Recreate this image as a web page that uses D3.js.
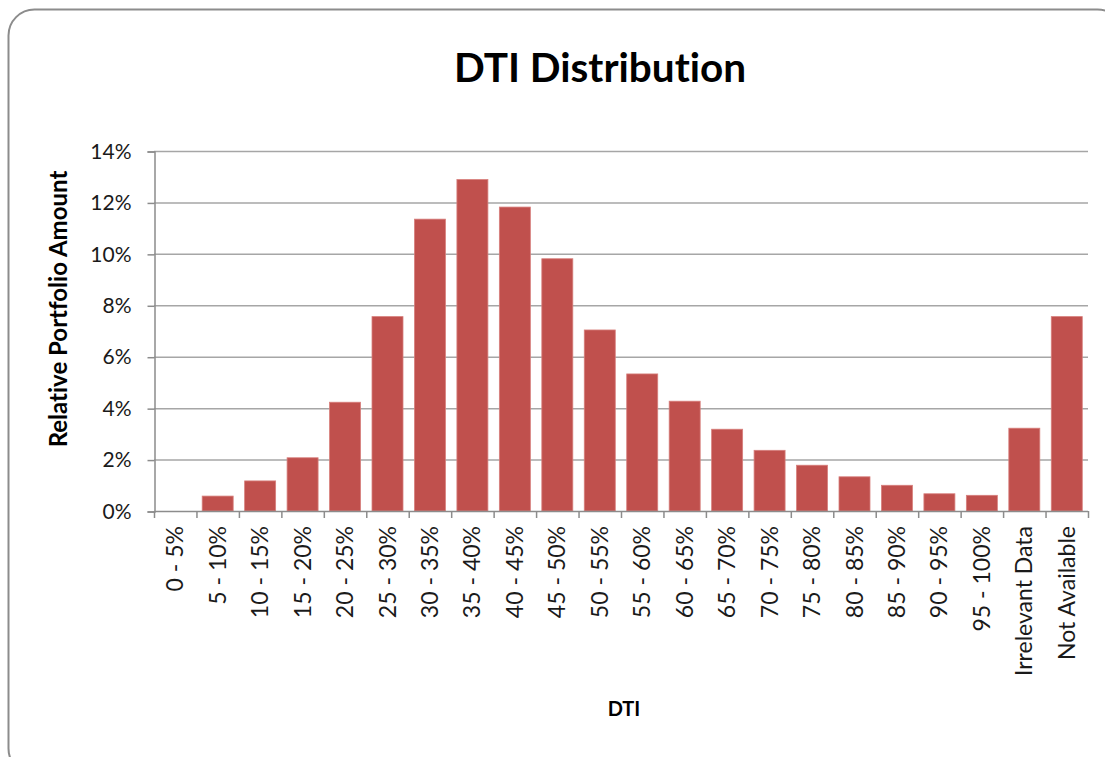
<!DOCTYPE html>
<html>
<head>
<meta charset="utf-8">
<script src="https://cdn.jsdelivr.net/npm/d3@7/dist/d3.min.js"></script>
<style>
  html, body { margin: 0; padding: 0; background: #fff; }
  svg { display: block; }
  text { font-variant-ligatures: none; font-feature-settings: "liga" 0, "clig" 0; }
</style>
</head>
<body>
<svg id="chart" width="1105" height="757"></svg>
<script>
const categories = ["0 - 5%", "5 - 10%", "10 - 15%", "15 - 20%", "20 - 25%", "25 - 30%",
  "30 - 35%", "35 - 40%", "40 - 45%", "45 - 50%", "50 - 55%", "55 - 60%", "60 - 65%",
  "65 - 70%", "70 - 75%", "75 - 80%", "80 - 85%", "85 - 90%", "90 - 95%", "95 - 100%",
  "Irrelevant Data", "Not Available"];
const values = [0.0, 0.58, 1.17, 2.07, 4.23, 7.56, 11.35, 12.89, 11.82, 9.81, 7.04, 5.33,
  4.27, 3.18, 2.36, 1.78, 1.33, 1.0, 0.67, 0.61, 3.22, 7.56];
const yTicks = [0, 2, 4, 6, 8, 10, 12, 14];
const title = "DTI Distribution";
const xTitle = "DTI";
const yTitle = "Relative Portfolio Amount";

const FONT = "Lato, 'Open Sans', sans-serif";
const svg = d3.select("#chart");

// outer rounded frame
svg.append("rect")
  .attr("x", 8.5).attr("y", 9.5)
  .attr("width", 1115).attr("height", 765)
  .attr("rx", 26).attr("ry", 26)
  .attr("fill", "#fff")
  .attr("stroke", "#8c8c8c")
  .attr("stroke-width", 2);

const pL = 154, pR = 1088, pT = 151, pB = 511;

const x = d3.scaleBand().domain(categories).range([pL, pR])
  .paddingInner(0.27).paddingOuter(0.135);
const y = d3.scaleLinear().domain([0, 14]).range([pB, pT]);

// gridlines
svg.append("g").selectAll("line").data(yTicks.filter(d => d > 0)).join("line")
  .attr("x1", pL).attr("x2", pR)
  .attr("y1", d => y(d) + 0.5).attr("y2", d => y(d) + 0.5)
  .attr("stroke", "#a6a6a6").attr("stroke-width", 1.5);

// bars
svg.append("g").selectAll("rect").data(categories).join("rect")
  .attr("x", d => x(d))
  .attr("y", (d, i) => y(values[i]))
  .attr("width", x.bandwidth())
  .attr("height", (d, i) => pB - y(values[i]))
  .attr("fill", "#c0504d")
  .attr("stroke", "#d77f7c")
  .attr("stroke-width", 0.8);

// y axis
const yAxis = d3.axisLeft(y).tickValues(yTicks).tickFormat(d => d + "%").tickSize(7).tickPadding(16);
const gy = svg.append("g").attr("transform", `translate(${pL + 0.5},0.5)`).call(yAxis);
gy.select(".domain").attr("stroke", "#8c8c8c").attr("stroke-width", 1.5);
gy.selectAll(".tick line").attr("stroke", "#8c8c8c").attr("stroke-width", 1.5);
gy.selectAll("text").attr("font-family", FONT).attr("font-size", 21).attr("fill", "#1a1a1a");

// x axis: tick marks at band boundaries
const step = x.step();
const boundaries = d3.range(categories.length + 1).map(i => pL + i * step);
const gx = svg.append("g");
gx.append("line").attr("x1", pL).attr("x2", pR)
  .attr("y1", pB + 0.5).attr("y2", pB + 0.5)
  .attr("stroke", "#8c8c8c").attr("stroke-width", 1.5);
gx.selectAll("line.tk").data(boundaries).join("line").attr("class", "tk")
  .attr("x1", d => d + 0.5).attr("x2", d => d + 0.5)
  .attr("y1", pB).attr("y2", pB + 7)
  .attr("stroke", "#8c8c8c").attr("stroke-width", 1.5);
gx.selectAll("text").data(categories).join("text")
  .attr("transform", d => `translate(${x(d) + x.bandwidth() / 2 + 8},${pB + 15}) rotate(-90)`)
  .attr("text-anchor", "end")
  .attr("font-family", FONT).attr("font-size", 23).attr("fill", "#1a1a1a")
  .text(d => d);

// titles
svg.append("text").attr("x", 600).attr("y", 82).attr("text-anchor", "middle")
  .attr("font-family", FONT).attr("font-weight", "bold").attr("font-size", 40.5)
  .attr("fill", "#000").text(title);
svg.append("text").attr("x", 624).attr("y", 716).attr("text-anchor", "middle")
  .attr("font-family", FONT).attr("font-weight", "bold").attr("font-size", 20)
  .attr("fill", "#000").text(xTitle);
svg.append("text").attr("transform", "translate(67,309) rotate(-90)").attr("text-anchor", "middle")
  .attr("font-family", FONT).attr("font-weight", "bold").attr("font-size", 24)
  .attr("fill", "#000").text(yTitle);
</script>
</body>
</html>
